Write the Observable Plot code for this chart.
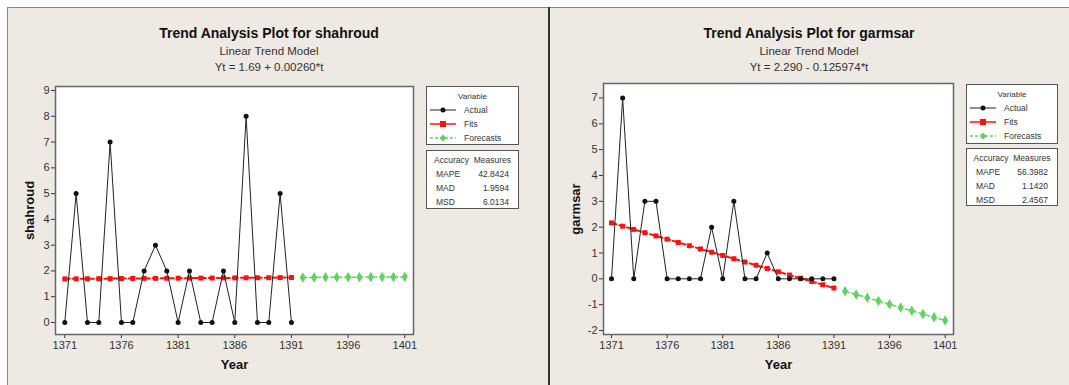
<!DOCTYPE html>
<html><head><meta charset="utf-8">
<script src="https://cdn.jsdelivr.net/npm/d3@7"></script>
<script src="https://cdn.jsdelivr.net/npm/@observablehq/plot@0.6"></script>
<style>
body{margin:0;background:#fff;font-family:"Liberation Sans",Arial,sans-serif;}
#root{position:relative;width:1069px;height:385px;overflow:hidden;background:#fff;}
.bg{position:absolute;background:#eee9e2;}
.abs{position:absolute;}
.ctr{position:absolute;transform:translate(-50%,-50%);white-space:nowrap;text-align:center;}
.t1{font-weight:bold;font-size:14px;color:#111;}
.t2{font-size:11.5px;color:#333;}
.box{position:absolute;background:#fff;border:1.5px solid #555;box-sizing:border-box;font-size:8.5px;color:#333;}
.row{position:absolute;white-space:nowrap;transform:translateY(-50%);}
svg [aria-label="y-axis label"], svg [aria-label="x-axis label"]{font-weight:bold;font-size:13px;fill:#111;}
</style>
</head><body>
<div id="root"></div>
<script>
// ---------- data ----------
const yearsFit = [1371,1372,1373,1374,1375,1376,1377,1378,1379,1380,1381,1382,1383,1384,1385,1386,1387,1388,1389,1390,1391];
const yearsForecast = [1392,1393,1394,1395,1396,1397,1398,1399,1400,1401];

const shahroudActual = [0,5,0,0,7,0,0,2,3,2,0,2,0,0,2,0,8,0,0,5,0];
const shahroudFits = [1.693,1.695,1.698,1.700,1.703,1.706,1.708,1.711,1.713,1.716,1.719,1.721,1.724,1.726,1.729,1.732,1.734,1.737,1.739,1.742,1.745];
const shahroudForecasts = [1.747,1.750,1.752,1.755,1.758,1.760,1.763,1.765,1.768,1.771];

const garmsarActual = [0,7,0,3,3,0,0,0,0,2,0,3,0,0,1,0,0,0,0,0,0];
const garmsarFits = [2.164,2.038,1.912,1.786,1.660,1.534,1.408,1.282,1.156,1.030,0.904,0.778,0.652,0.526,0.400,0.274,0.148,0.022,-0.104,-0.230,-0.356];
const garmsarForecasts = [-0.481,-0.607,-0.733,-0.859,-0.985,-1.111,-1.237,-1.363,-1.489,-1.615];

const xTicks = [1371,1376,1381,1386,1391,1396,1401];
const shahroudYTicks = [0,1,2,3,4,5,6,7,8,9];
const garmsarYTicks = [-2,-1,0,1,2,3,4,5,6,7];

const titles = ["Trend Analysis Plot for shahroud","Trend Analysis Plot for garmsar"];
const subtitles = ["Linear Trend Model","Linear Trend Model"];
const equations = ["Yt = 1.69 + 0.00260*t","Yt = 2.290 - 0.125974*t"];
const legendLabels = ["Actual","Fits","Forecasts"];
const accuracyNames = ["MAPE","MAD","MSD"];
const shahroudAccuracy = ["42.8424","1.9594","6.0134"];
const garmsarAccuracy = ["56.3982","1.1420","2.4567"];

// ---------- helpers ----------
const root = document.getElementById("root");
function el(cls, css, html){const d=document.createElement("div");d.className=cls;Object.assign(d.style,css);if(html!==undefined)d.innerHTML=html;root.appendChild(d);return d;}

function makePlot(o){
  const act = yearsFit.map((y,i)=>({year:y,v:o.actual[i]}));
  const fit = yearsFit.map((y,i)=>({year:y,v:o.fits[i]}));
  const fc = yearsForecast.map((y,i)=>({year:y,v:o.forecasts[i]}));
  return Plot.plot({
    width:o.width, height:378,
    marginLeft:o.ml, marginRight:o.mr, marginTop:o.mt, marginBottom:o.mb,
    style:{background:"transparent",color:"#333",fontFamily:"'Liberation Sans',Arial,sans-serif",fontSize:"11px"},
    x:{domain:o.xDomain},
    y:{domain:o.yDomain},
    marks:[
      Plot.frame({fill:"white"}),
      Plot.axisX({ticks:xTicks,tickFormat:d=>String(d),tickSize:4,tickPadding:3,label:"Year",labelAnchor:"center",labelArrow:"none",labelOffset:34}),
      Plot.axisY({ticks:o.yTicks,tickFormat:d=>String(d),tickSize:4,tickPadding:2,label:o.label,labelAnchor:"center",labelArrow:"none",labelOffset:o.lo}),
      Plot.lineY(fc,{x:"year",y:"v",stroke:"#5fd35f",strokeWidth:1.5,strokeDasharray:"4,3"}),
      Plot.dot(fc,{x:"year",y:"v",symbol:"diamond",r:3.2,fill:"#5fd35f",stroke:"none"}),
      Plot.lineY(fit,{x:"year",y:"v",stroke:"#ff1010",strokeWidth:2,strokeDasharray:"5,3"}),
      Plot.dot(fit,{x:"year",y:"v",symbol:"square",r:2.8,fill:"#ff1010",stroke:"none"}),
      Plot.lineY(act,{x:"year",y:"v",stroke:"#222",strokeWidth:1}),
      Plot.dot(act,{x:"year",y:"v",r:2.5,fill:"#111",stroke:"none"}),
      Plot.frame({stroke:"#666",strokeWidth:1.5})
    ]
  });
}

function swatch(kind){
  if(kind===0) return `<svg width="26" height="8"><line x1="0" y1="4" x2="26" y2="4" stroke="#222" stroke-width="1"/><circle cx="13" cy="4" r="2.5" fill="#111"/></svg>`;
  if(kind===1) return `<svg width="26" height="8"><line x1="0" y1="4" x2="26" y2="4" stroke="#ff1010" stroke-width="1.5"/><rect x="10" y="1" width="6" height="6" fill="#ff1010"/></svg>`;
  return `<svg width="26" height="8"><line x1="0" y1="4" x2="26" y2="4" stroke="#5fd35f" stroke-width="1.5" stroke-dasharray="3,2"/><path d="M13,0.5 L16.5,4 L13,7.5 L9.5,4Z" fill="#5fd35f"/></svg>`;
}

function legend(x, y, w, h, accY, accH, acc){
  const b = el("box",{left:x+"px",top:y+"px",width:w+"px",height:h+"px"});
  const add=(parent,css,html)=>{const d=document.createElement("div");d.className="row";Object.assign(d.style,css);d.innerHTML=html;parent.appendChild(d);};
  add(b,{left:"0",width:"100%",textAlign:"center",top:"9px",fontSize:"8px"},"Variable");
  legendLabels.forEach((t,i)=>add(b,{left:"3px",top:(23+i*14)+"px",display:"flex",alignItems:"center",gap:"8px"},swatch(i)+"<span>"+t+"</span>"));
  const a = el("box",{left:x+"px",top:accY+"px",width:w+"px",height:accH+"px"});
  add(a,{left:"0",width:"100%",textAlign:"center",top:"9px"},"Accuracy&nbsp;&nbsp;Measures");
  accuracyNames.forEach((t,i)=>{
    add(a,{left:"9px",top:(23+i*14)+"px"},t);
    add(a,{right:"9px",top:(23+i*14)+"px",textAlign:"right"},acc[i]);
  });
}

// ---------- backgrounds ----------
el("bg",{left:"7px",top:"7px",width:"541px",height:"378px",borderTop:"1.5px solid #888",borderLeft:"1.5px solid #888",boxSizing:"border-box"});
el("bg",{left:"550px",top:"7px",width:"519px",height:"378px",borderTop:"1.5px solid #888",boxSizing:"border-box"});
el("abs",{left:"547.5px",top:"7px",width:"2.5px",height:"378px",background:"#333"});

// ---------- plots ----------
const p1 = makePlot({actual:shahroudActual,fits:shahroudFits,forecasts:shahroudForecasts,yTicks:shahroudYTicks,label:"shahroud",
  width:541,ml:48,mr:135,mt:79,mb:51,lo:31,xDomain:[1370.18,1401.77],yDomain:[-0.465,9.155]});
const w1 = el("abs",{left:"7px",top:"7px"}); w1.appendChild(p1);
const p2 = makePlot({actual:garmsarActual,fits:garmsarFits,forecasts:garmsarForecasts,yTicks:garmsarYTicks,label:"garmsar",
  width:519,ml:53,mr:116,mt:76,mb:51,lo:33,xDomain:[1370.28,1401.75],yDomain:[-2.155,7.56]});
const w2 = el("abs",{left:"550px",top:"7px"}); w2.appendChild(p2);

// ---------- titles ----------
[[269,0],[809,1]].forEach(([cx,i])=>{
  el("ctr t1",{left:cx+"px",top:"33px"},titles[i]);
  el("ctr t2",{left:cx+"px",top:"51px"},subtitles[i]);
  el("ctr t2",{left:cx+"px",top:"67px"},equations[i]);
});

// ---------- legends ----------
legend(426,86,93,59,150,59,shahroudAccuracy);
legend(966,84,92,60,148,58,garmsarAccuracy);
</script>
</body></html>
